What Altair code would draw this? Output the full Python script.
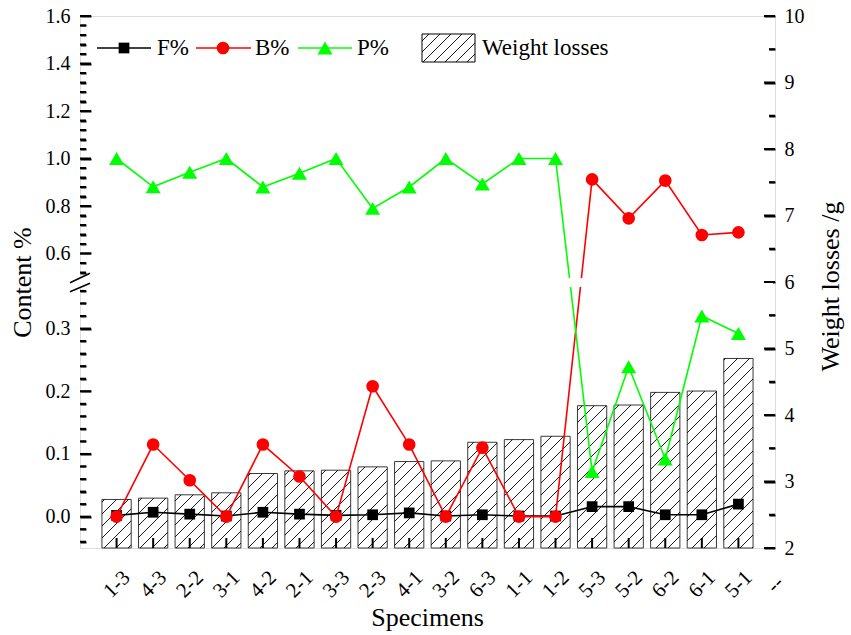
import math
import pandas as pd
import altair as alt

# ---------------------------------------------------------------- data
specimens = ["1-3", "4-3", "2-2", "3-1", "4-2", "2-1", "3-3", "2-3", "4-1",
             "3-2", "6-3", "1-1", "1-2", "5-3", "5-2", "6-2", "6-1", "5-1"]
f_pct = [0.002, 0.007, 0.004, 0.001, 0.007, 0.004, 0.002, 0.003, 0.006,
         0.001, 0.003, 0.001, 0.001, 0.016, 0.016, 0.003, 0.003, 0.020]
b_pct = [0.000, 0.115, 0.058, 0.000, 0.115, 0.064, 0.000, 0.208, 0.115,
         0.000, 0.110, 0.000, 0.000, 0.912, 0.748, 0.907, 0.678, 0.689]
p_pct = [1.000, 0.881, 0.942, 1.000, 0.880, 0.938, 1.000, 0.790, 0.880,
         1.000, 0.893, 1.000, 1.000, 0.072, 0.239, 0.092, 0.320, 0.292]
weight_loss = [2.73, 2.75, 2.80, 2.83, 3.12, 3.16, 3.17, 3.22, 3.30,
               3.31, 3.59, 3.63, 3.68, 4.14, 4.15, 4.34, 4.36, 4.85]

left_major_lower = [0.0, 0.1, 0.2, 0.3]
left_major_upper = [0.6, 0.8, 1.0, 1.2, 1.4, 1.6]
right_major = [2, 3, 4, 5, 6, 7, 8, 9, 10]

# ---------------------------------------------------------------- layout
W_PX, H_PX = 695, 532           # plot area
X_MAX = 19                      # category slots 1..18, frame at 0 and 19
Y_MIN, Y_MAX = 2, 10            # weight-loss scale shared by every layer
PX_X = W_PX / X_MAX
PX_Y = H_PX / (Y_MAX - Y_MIN)
BAR_HALF = 0.40
FONT = "Liberation Serif"
MAJOR_TICK, MINOR_TICK = 11, 6
AXIS_W = 2

# broken content axis, expressed on the shared weight-loss scale
LO_MIN = -0.05                  # bottom of lower segment
K_LO = 627 / PX_Y               # scale units per content unit (lower)
UP_MAX = 1.6                    # top of upper segment
K_UP = 237.5 / PX_Y             # scale units per content unit (upper)
BREAK_C = 0.45


def to_scale(c):
    if c >= BREAK_C:
        return Y_MAX - (UP_MAX - c) * K_UP
    return Y_MIN + (c - LO_MIN) * K_LO


xs = alt.Scale(domain=[0, X_MAX], nice=False, zero=False)
ys = alt.Scale(domain=[Y_MIN, Y_MAX], nice=False, zero=False)

# ---------------------------------------------------------------- tables
n = len(specimens)
pos = list(range(1, n + 1))
bars = pd.DataFrame({
    "x_lo": [p - BAR_HALF for p in pos],
    "x_hi": [p + BAR_HALF for p in pos],
    "w": weight_loss,
    "base": [Y_MIN] * n,
})


def hatch(x0, x1, y0, y1, spacing=12.0):
    """'/' hatch segments clipped to a box given in upward pixel units."""
    segs = []
    k = math.floor((y0 - x1) / spacing) * spacing
    kmax = math.ceil((y1 - x0) / spacing) * spacing
    while k <= kmax:
        xa = max(x0, y0 - k)
        xb = min(x1, y1 - k)
        if xb - xa > 0.6:
            segs.append((xa, xa + k, xb, xb + k))
        k += spacing
    return segs


def seg_frame(segs):
    """Boxes/segments in upward plot pixels -> data units of the shared scales."""
    return pd.DataFrame([{"x1": xa / PX_X, "y1": Y_MIN + ya / PX_Y,
                          "x2": xb / PX_X, "y2": Y_MIN + yb / PX_Y}
                         for xa, ya, xb, yb in segs])


segs = []
for p, w in zip(pos, weight_loss):
    segs += hatch((p - BAR_HALF) * PX_X, (p + BAR_HALF) * PX_X,
                  0.0, (w - Y_MIN) * PX_Y)
hatch_df = seg_frame(segs)

# legend swatch box (plot pixels, y downward)
BOX = (342, 395, 18, 46)
legend_hatch_df = seg_frame(hatch(BOX[0], BOX[1], H_PX - BOX[3], H_PX - BOX[2], 11.0))

series = {"F%": f_pct, "B%": b_pct, "P%": p_pct}
styles = {"F%": ("black", "square", 115),
          "B%": ("#ff0000", "circle", 160),
          "P%": ("#00ff00", "triangle-up", 225)}
series_df = {
    k: pd.DataFrame({"x": pos, "value": v, "y": [to_scale(c) for c in v]})
    for k, v in series.items()
}

one = pd.DataFrame({"a": [0]})

left_major = [to_scale(c) for c in left_major_lower + left_major_upper]
left_minor = ([to_scale(round(-0.04 + 0.02 * i, 2)) for i in range(21)
               if round(-0.04 + 0.02 * i, 2) not in left_major_lower] +
              [to_scale(round(0.52 + 0.04 * i, 2)) for i in range(28)
               if round(0.52 + 0.04 * i, 2) not in left_major_upper])
right_minor = [v + 0.5 for v in right_major[:-1]]

tick_labels = [""] + specimens + ["--"]
label_expr_x = "[" + ",".join("'%s'" % t for t in tick_labels) + "][datum.value]"
label_expr_left = (
    "datum.value > 5.95 ? format(%f - (%f - datum.value) / %f + 1e-9, '.1f') "
    ": format((datum.value - %f) / %f + %f + 1e-9, '.1f')"
    % (UP_MAX, Y_MAX, K_UP, Y_MIN, K_LO, LO_MIN)
)

common = dict(grid=False, domain=False, ticks=False, tickSize=0,
              labelFont=FONT, labelColor="black", titleFont=FONT,
              titleColor="black", titleFontWeight="normal")


def ax(**kw):
    d = dict(common)
    d.update(kw)
    return alt.Axis(**d)


def carrier(xaxis, yaxis):
    """Invisible layer whose only job is to draw one x and one y axis."""
    return alt.Chart(one).mark_point(opacity=0).encode(
        x=alt.X("a:Q", scale=xs, axis=xaxis),
        y=alt.Y("a:Q", scale=ys, axis=yaxis),
    )


def tick_axis(orient, values, length):
    """Axis pulled inward by its own tick length, so ticks point into the plot."""
    return ax(orient=orient, values=values, offset=-length, labels=False,
              ticks=True, tickSize=length, tickWidth=AXIS_W, tickColor="black",
              title=None)


# ---------------------------------------------------------------- axes (labels, titles)
axes_layers = [
    carrier(
        ax(orient="bottom", values=list(range(1, X_MAX + 1)), labelExpr=label_expr_x,
           labelAngle=-45, labelAlign="center", labelBaseline="middle",
           labelPadding=36, labelFontSize=21, labelFlush=False, labelOverlap=False,
           title="Specimens", titleFontSize=26,
           titleX=347, titleY=69, titleAlign="center", titleBaseline="middle"),
        ax(orient="left", values=left_major, labelExpr=label_expr_left,
           labelFontSize=20, labelPadding=10,
           title="Content %", titleFontSize=26, titleAngle=-90,
           titleX=-58, titleY=266, titleAlign="center", titleBaseline="middle"),
    ),
    carrier(
        None,
        ax(orient="right", values=right_major, format="d", labelFontSize=20,
           labelPadding=9, title="Weight losses /g", titleFontSize=26,
           titleAngle=-90, titleX=55, titleY=270, titleAlign="center",
           titleBaseline="middle"),
    ),
    carrier(None, tick_axis("left", left_major, MAJOR_TICK)),
    carrier(None, tick_axis("left", left_minor, MINOR_TICK)),
    carrier(None, tick_axis("right", right_major, MAJOR_TICK)),
    carrier(None, tick_axis("right", right_minor, MINOR_TICK)),
]


def seg_layer(df, width=0.9):
    return alt.Chart(df).mark_rule(color="black", strokeWidth=width).encode(
        x=alt.X("x1:Q", scale=xs, axis=None), x2="x2:Q",
        y=alt.Y("y1:Q", scale=ys, axis=None), y2="y2:Q",
    )


def box_layer(df, color="black"):
    return alt.Chart(df).mark_rect(color=color, opacity=1).encode(
        x=alt.X("x1:Q", scale=xs, axis=None), x2="x2:Q",
        y=alt.Y("y1:Q", scale=ys, axis=None), y2="y2:Q",
    )


# ---------------------------------------------------------------- inward ticks
def yticks(values, x0_px, x1_px):
    half = AXIS_W / 2
    return [(x0_px, (v - Y_MIN) * PX_Y - half, x1_px, (v - Y_MIN) * PX_Y + half)
            for v in values]


def xticks(values, length):
    half = AXIS_W / 2
    return [(p * PX_X - half, 0, p * PX_X + half, length) for p in values]


tick_layers = [
    box_layer(seg_frame(yticks(left_major, 0, MAJOR_TICK))),
    box_layer(seg_frame(yticks(left_minor, 0, MINOR_TICK))),
    box_layer(seg_frame(yticks(right_major, W_PX - MAJOR_TICK, W_PX))),
    box_layer(seg_frame(yticks(right_minor, W_PX - MINOR_TICK, W_PX))),
    box_layer(seg_frame(xticks(pos, 10))),
]

# ---------------------------------------------------------------- marks
bar_layer = alt.Chart(bars).mark_rect(fill="white", stroke="#3a3a3a",
                                      strokeWidth=1).encode(
    x=alt.X("x_lo:Q", scale=xs, axis=None), x2="x_hi:Q",
    y=alt.Y("w:Q", scale=ys, axis=None), y2="base:Q",
)

hatch_layer = seg_layer(hatch_df)

series_layers = []
for name, df in series_df.items():
    color, shape, size = styles[name]
    enc = dict(x=alt.X("x:Q", scale=xs, axis=None),
               y=alt.Y("y:Q", scale=ys, axis=None))
    series_layers.append(
        alt.Chart(df).mark_line(color=color, strokeWidth=1.6).encode(**enc))
    series_layers.append(
        alt.Chart(df).mark_point(color=color, shape=shape, size=size,
                                 filled=True, opacity=1).encode(**enc))

# white gap where the content axis is broken
gap_layer = box_layer(seg_frame([(-3, H_PX - 271, W_PX - 2, H_PX - 262)]), "white")

# the two slashes marking the break on the left axis (plot pixels, y down)
slash_px = [(-10, 266.7, 10, 257.3), (-10, 275.7, 10, 267.3)]
slash_layer = seg_layer(seg_frame([(a, H_PX - b, c, H_PX - d)
                                   for a, b, c, d in slash_px]), 1.5)

# ---------------------------------------------------------------- legend
LEG_Y = 32
legend_layers = []
for name, (x0, x1, xm, xt) in zip(["F%", "B%", "P%"],
                                  [(17, 71, 44, 77), (116, 171, 143, 175),
                                   (218, 272, 245, 277)]):
    color, shape, size = styles[name]
    legend_layers.append(alt.Chart(one).mark_rule(color=color, strokeWidth=1.6).encode(
        x=alt.value(x0), x2=alt.value(x1), y=alt.value(LEG_Y)))
    legend_layers.append(alt.Chart(one).mark_point(
        color=color, shape=shape, size=size, filled=True, opacity=1).encode(
        x=alt.value(xm), y=alt.value(LEG_Y)))
    legend_layers.append(alt.Chart(one).mark_text(
        text=name, font=FONT, fontSize=23, align="left", baseline="middle",
        color="black").encode(x=alt.value(xt), y=alt.value(LEG_Y)))

legend_layers.append(alt.Chart(one).mark_rect(fill="white", stroke="black",
                                              strokeWidth=1).encode(
    x=alt.value(BOX[0]), x2=alt.value(BOX[1]),
    y=alt.value(BOX[2]), y2=alt.value(BOX[3])))
legend_layers.append(seg_layer(legend_hatch_df))
legend_layers.append(alt.Chart(one).mark_text(
    text="Weight losses", font=FONT, fontSize=23, align="left",
    baseline="middle", color="black").encode(
    x=alt.value(402), y=alt.value(LEG_Y)))

# ---------------------------------------------------------------- chart
# frame ticks go last so nothing is painted over them
chart = alt.layer(
    *axes_layers, bar_layer, hatch_layer, *series_layers,
    gap_layer, slash_layer, *legend_layers, *tick_layers,
).resolve_scale(x="shared", y="shared").resolve_axis(
    x="independent", y="independent"
).properties(
    width=W_PX, height=H_PX,
    autosize=alt.AutoSizeParams(type="none"),
    padding={"left": 80, "top": 16, "right": 851 - 80 - W_PX,
             "bottom": 635 - 16 - H_PX},
).configure_view(stroke="black", strokeWidth=AXIS_W).configure(background="white")

chart.save("out.html", embed_options={"renderer": "svg", "actions": False})
